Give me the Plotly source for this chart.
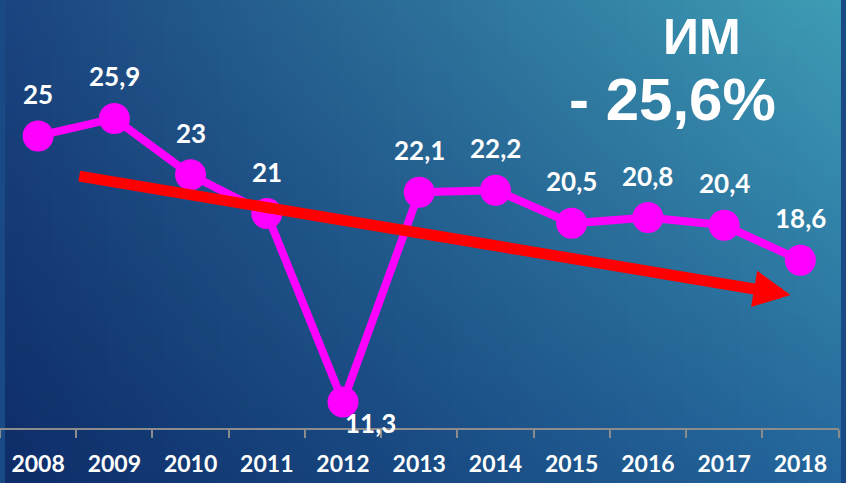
import numpy as np
import plotly.graph_objects as go

# ---- data ----
years = ["2008", "2009", "2010", "2011", "2012", "2013", "2014", "2015", "2016", "2017", "2018"]
values = [25, 25.9, 23, 21, 11.3, 22.1, 22.2, 20.5, 20.8, 20.4, 18.6]
trend_start = [0.52, 22.94]   # (category index, value)
trend_end = [9.87, 16.81]
title_line1 = "ИМ"
title_line2 = "- 25,6%"

W, H = 846, 483

fig = go.Figure()

# ---- background gradient (styling) ----
nx, ny = 90, 52
c_tl = np.array([27, 69, 128])
c_tr = np.array([62, 156, 180])
c_bl = np.array([14, 45, 105])
c_br = np.array([36, 102, 156])
u = np.linspace(0, 1, nx)[None, :, None]
v = np.linspace(0, 1, ny)[:, None, None]  # 0 = top
img = (c_tl * (1 - u) * (1 - v) + c_tr * u * (1 - v) + c_bl * (1 - u) * v + c_br * u * v)
fig.add_trace(go.Image(z=img.astype(np.uint8), xaxis="x", yaxis="y", zsmooth="fast",
                       hoverinfo="skip"))

# ---- data line ----
fig.add_trace(go.Scatter(
    x=years, y=values, xaxis="x2", yaxis="y2", mode="lines+markers",
    line=dict(color="#ff00ff", width=8),
    marker=dict(color="#ff00ff", size=31),
    hoverinfo="skip", showlegend=False,
))


def fmt(val):
    return ("%g" % val).replace(".", ",")


annotations = []
for i, val in enumerate(values):
    if i == 4:
        ys, xs = -21, 27
    else:
        ys, xs = 42, 0
    annotations.append(dict(
        x=i, y=val, xref="x2", yref="y2", text="<b>" + fmt(val) + "</b>", showarrow=False,
        xshift=xs, yshift=ys, xanchor="center", yanchor="middle",
        font=dict(family="Lato", size=26, color="white"),
    ))

# trend arrow
annotations.append(dict(
    x=trend_end[0], y=trend_end[1], ax=trend_start[0], ay=trend_start[1],
    xref="x2", yref="y2", axref="x2", ayref="y2", text="", showarrow=True,
    arrowcolor="#ff0000", arrowwidth=11, arrowhead=2, arrowsize=0.67, standoff=0,
))

# title texts
annotations.append(dict(
    x=702 / W, y=1 - 37 / H, xref="paper", yref="paper", text="<b>" + title_line1 + "</b>",
    showarrow=False, xanchor="center", yanchor="middle",
    font=dict(family="Liberation Sans", size=50, color="white"),
))
annotations.append(dict(
    x=672 / W, y=1 - 100 / H, xref="paper", yref="paper", text="<b>" + title_line2 + "</b>",
    showarrow=False, xanchor="center", yanchor="middle",
    font=dict(family="Liberation Sans", size=60, color="white"),
))

fig.update_layout(
    width=W, height=H,
    margin=dict(l=0, r=0, t=0, b=0),
    paper_bgcolor="#1a4a85",
    plot_bgcolor="rgba(0,0,0,0)",
    showlegend=False,
    annotations=annotations,
    xaxis=dict(domain=[0, 1], range=[-0.5, nx - 0.5], visible=False, fixedrange=True),
    yaxis=dict(domain=[0, 1], range=[ny - 0.5, -0.5], visible=False, fixedrange=True),
    xaxis2=dict(
        domain=[0, 838.5 / W], anchor="y2", type="category", range=[-0.5, 10.5],
        showline=True, linecolor="#8c8c8c", linewidth=2,
        ticks="outside", tickson="boundaries", ticklen=8, tickwidth=2, tickcolor="#8c8c8c",
        showgrid=False, zeroline=False,
        tickfont=dict(family="Lato", size=23, color="white", weight="bold"),
        ticklabelstandoff=14,
    ),
    yaxis2=dict(
        domain=[55 / H, 1], anchor="x2", range=[9.96, 32.0], visible=False,
        showgrid=False, zeroline=False,
    ),
)

fig.write_html("out.html", config={"displayModeBar": False})

# remove default page margin so the figure sits at the window's top-left corner
with open("out.html", "r", encoding="utf-8") as f:
    html = f.read()
html = html.replace("<body>", '<body style="margin:0;padding:0;">', 1)
with open("out.html", "w", encoding="utf-8") as f:
    f.write(html)
